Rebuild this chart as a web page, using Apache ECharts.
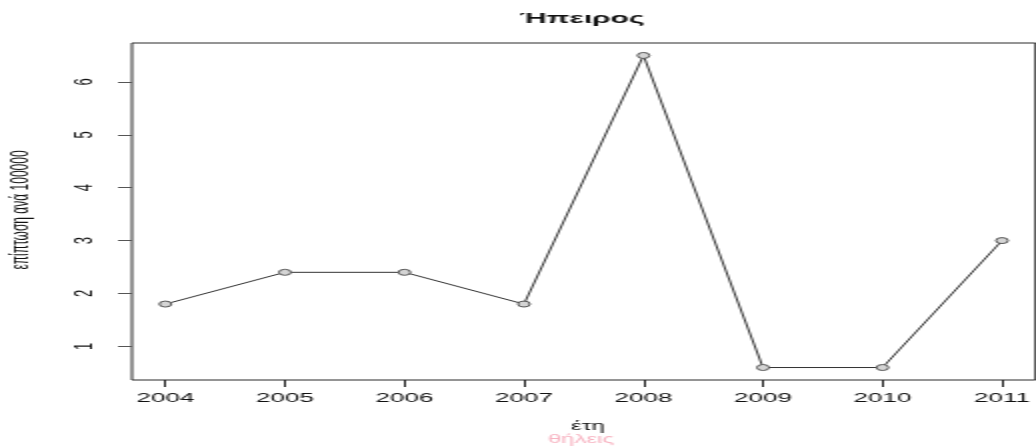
<!DOCTYPE html>
<html>
<head>
<meta charset="utf-8">
<script src="https://cdn.jsdelivr.net/npm/echarts@6/dist/echarts.min.js"></script>
<style>
  html, body { margin: 0; padding: 0; background: #fff; overflow: hidden; }
  #wrap { width: 1036px; height: 448px; overflow: hidden; }
  /* the plot is laid out at half width and stretched 2x horizontally */
  #chart { width: 518px; height: 448px; transform: scaleX(2); transform-origin: 0 0; }
</style>
</head>
<body>
<div id="wrap"><div id="chart"></div></div>
<script>
// incidence per 100000, females, Epirus
const years = [2004, 2005, 2006, 2007, 2008, 2009, 2010, 2011];
const incidence = [1.8, 2.4, 2.4, 1.8, 6.5, 0.6, 0.6, 3.0];
const yTicks = [1, 2, 3, 4, 5, 6];

const titleText = 'Ήπειρος';
const yName = 'επίπτωση ανά 100000';
const xName = 'έτη';
const subText = 'θήλεις';

// R-style axis ranges: data range padded by 4% on each side
function padRange(vals) {
  const lo = Math.min.apply(null, vals), hi = Math.max.apply(null, vals);
  const d = (hi - lo) * 0.04;
  return [lo - d, hi + d];
}
const xr = padRange(years);
const yr = padRange(incidence);

const font = '"Liberation Sans", Arial, Helvetica, sans-serif';

const chart = echarts.init(document.getElementById('chart'), null, { renderer: 'canvas', devicePixelRatio: 1 });
chart.setOption({
  animation: false,
  backgroundColor: '#fff',
  grid: {
    left: 66, top: 43, width: 456, height: 337,
    show: true, borderColor: '#2a2a2a', borderWidth: 1, backgroundColor: 'transparent'
  },
  xAxis: {
    type: 'value', min: xr[0], max: xr[1],
    axisLine: { show: false },
    splitLine: { show: false },
    axisTick: { show: true, length: 7, customValues: years, lineStyle: { color: '#222', width: 1 } },
    axisLabel: {
      customValues: years, margin: 12, formatter: v => String(v),
      fontFamily: font, fontSize: 13, color: '#111'
    }
  },
  yAxis: {
    type: 'value', min: yr[0], max: yr[1],
    axisLine: { show: false },
    splitLine: { show: false },
    axisTick: { show: true, length: 7, customValues: yTicks, lineStyle: { color: '#555', width: 1 } },
    axisLabel: {
      customValues: yTicks, rotate: 90, margin: 17, formatter: v => String(v),
      fontFamily: font, fontSize: 13, color: '#111'
    }
  },
  graphic: [
    { type: 'text', x: 291, y: 18.5, style: { text: titleText, font: 'bold 15px ' + font, fill: '#111', textAlign: 'center', textVerticalAlign: 'middle' } },
    { type: 'text', x: 11, y: 210, rotation: Math.PI / 2, style: { text: yName, font: '12px ' + font, fill: '#111', textAlign: 'center', textVerticalAlign: 'middle' } },
    { type: 'text', x: 294, y: 427, style: { text: xName, font: '12px ' + font, fill: '#111', textAlign: 'center', textVerticalAlign: 'middle' } },
    { type: 'text', x: 290.5, y: 440, style: { text: subText, font: '12px ' + font, fill: '#f8b4c2', textAlign: 'center', textVerticalAlign: 'middle' } }
  ],
  series: [{
    type: 'line',
    data: years.map((y, i) => [y, incidence[i]]),
    symbol: 'circle',
    symbolSize: 6,
    showAllSymbol: true,
    lineStyle: { color: '#333', width: 1 },
    itemStyle: { color: '#d4d4d4', borderColor: '#555', borderWidth: 1 },
    label: { show: false }
  }]
});
</script>
</body>
</html>
